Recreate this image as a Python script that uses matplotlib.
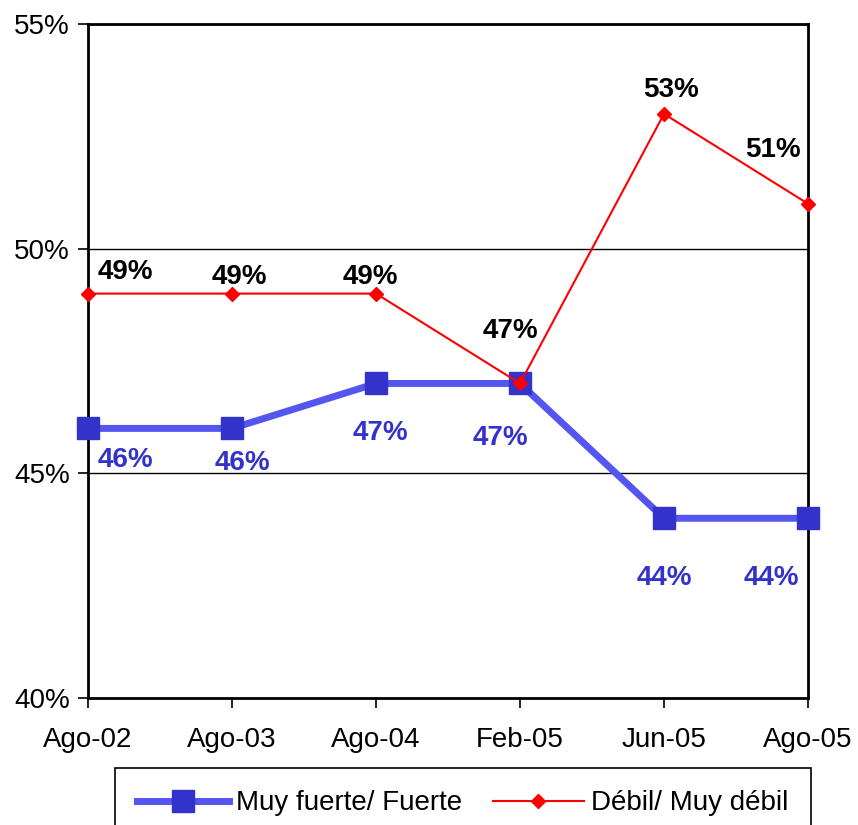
import numpy as np
import matplotlib.pyplot as plt

plt.rcParams['font.family'] = ['Liberation Sans', 'DejaVu Sans']

# Datos
fechas = ['Ago-02', 'Ago-03', 'Ago-04', 'Feb-05', 'Jun-05', 'Ago-05']
fuerte = [46, 46, 47, 47, 44, 44]   # Muy fuerte/ Fuerte
debil = [49, 49, 49, 47, 53, 51]    # Débil/ Muy débil

# desplazamientos de las etiquetas (pixeles)
off_fuerte = [(37, -32), (10, -35), (4, -50), (-20, -55), (0, -60), (-37, -60)]
off_debil = [(37, 22), (7, 17), (-6, 17), (-10, 52), (7, 24), (-35, 54)]

x = np.arange(len(fechas))

fig = plt.figure(figsize=(8.58, 8.25), dpi=100)
ax = fig.add_axes([88/858, 1-698/825, 720/858, 674/825])

ax.plot(x, fuerte, color='#5555F0', lw=5, marker='s', ms=16,
        mfc='#3333CC', mec='#3333CC', label='Muy fuerte/ Fuerte', zorder=3, clip_on=False)
ax.plot(x, debil, color='red', lw=1.5, marker='D', ms=7,
        mfc='red', mec='red', label='Débil/ Muy débil', zorder=4, clip_on=False)

for i in range(len(x)):
    ax.annotate(f'{fuerte[i]}%', (x[i], fuerte[i]), xytext=off_fuerte[i],
                textcoords='offset pixels', ha='center', va='center',
                fontsize=20, fontweight='bold', color='#3333CC')
    ax.annotate(f'{debil[i]}%', (x[i], debil[i]), xytext=off_debil[i],
                textcoords='offset pixels', ha='center', va='center',
                fontsize=20, fontweight='bold', color='black')

ax.set_xlim(0, 5)
ax.set_ylim(40, 55)
ax.set_xticks(x)
ax.set_xticklabels(fechas)
ax.set_yticks([40, 45, 50, 55])
ax.set_yticklabels(['40%', '45%', '50%', '55%'])
ax.tick_params(labelsize=20, direction='out', length=7, width=1.2)
ax.tick_params(axis='x', pad=14)
ax.tick_params(axis='y', pad=6)
ax.yaxis.grid(True, color='black', lw=1)
for s in ax.spines.values():
    s.set_linewidth(2)

leg = fig.legend(loc='upper left', bbox_to_anchor=(115/858, 1-768/825), ncol=2,
                 fontsize=20, frameon=True, fancybox=False, edgecolor='black',
                 framealpha=1, handlelength=3.3, columnspacing=1.1, handletextpad=0.25,
                 borderpad=0.8, borderaxespad=0)
leg.get_frame().set_linewidth(1.2)

fig.savefig('out.png', dpi=100)
